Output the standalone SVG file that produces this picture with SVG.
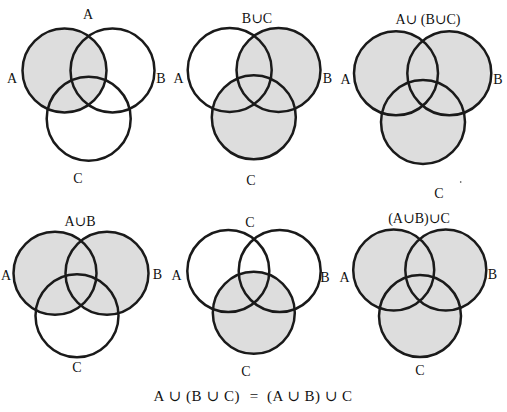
<svg xmlns="http://www.w3.org/2000/svg" width="507" height="412" viewBox="0 0 507 412" font-family="'Liberation Serif', 'DejaVu Serif', 'Times New Roman', serif" font-size="14">
<style>
.c{fill:none;stroke:#1a1a1a;stroke-width:2.5}
.s{fill:#dddddd;stroke:none}
.t{font-family:'Liberation Serif','DejaVu Serif','Times New Roman',serif;font-size:14px;fill:#111}
.m{text-anchor:middle}
.e{font-size:15px}
</style>
<rect width="507" height="412" fill="#fff"/>
<g id="venn-a">
<circle class="s" cx="64.5" cy="70.5" r="42"/>
<circle class="c" cx="64.5" cy="70.5" r="42"/>
<circle class="c" cx="112.5" cy="70.5" r="42"/>
<circle class="c" cx="88.7" cy="118.7" r="42"/>
<text class="t m" x="88" y="18.5">A</text>
<text class="t m" x="12" y="83">A</text>
<text class="t m" x="161" y="83">B</text>
<text class="t m" x="78" y="183">C</text>
</g>
<g id="venn-b-union-c">
<circle class="s" cx="278.5" cy="70" r="42"/>
<circle class="s" cx="253.8" cy="117.3" r="42"/>
<circle class="c" cx="229.7" cy="70" r="42"/>
<circle class="c" cx="278.5" cy="70" r="42"/>
<circle class="c" cx="253.8" cy="117.3" r="42"/>
<text class="t m" x="257" y="22.5">B∪C</text>
<text class="t m" x="178.5" y="83">A</text>
<text class="t m" x="327.5" y="83">B</text>
<text class="t m" x="251" y="185">C</text>
</g>
<g id="venn-a-union-bc">
<circle class="s" cx="396" cy="73.3" r="42"/>
<circle class="s" cx="449.3" cy="73.3" r="42"/>
<circle class="s" cx="423" cy="122" r="42"/>
<circle class="c" cx="396" cy="73.3" r="42"/>
<circle class="c" cx="449.3" cy="73.3" r="42"/>
<circle class="c" cx="423" cy="122" r="42"/>
<text class="t m" x="428" y="23.5">A∪ (B∪C)</text>
<text class="t m" x="345.5" y="83.5">A</text>
<text class="t m" x="498" y="83.5">B</text>
<text class="t m" x="439" y="198">C</text>
<circle cx="460.7" cy="182" r="0.8" fill="#333"/>
</g>
<g id="venn-a-union-b">
<circle class="s" cx="55" cy="273.3" r="41.5"/>
<circle class="s" cx="107" cy="273.3" r="41.5"/>
<circle class="c" cx="55" cy="273.3" r="41.5"/>
<circle class="c" cx="107" cy="273.3" r="41.5"/>
<circle class="c" cx="77" cy="315.8" r="41.5"/>
<text class="t m" x="80" y="226">A∪B</text>
<text class="t m" x="6" y="280">A</text>
<text class="t m" x="157.5" y="279">B</text>
<text class="t m" x="77" y="371.5">C</text>
</g>
<g id="venn-c">
<circle class="s" cx="253.8" cy="312.8" r="41"/>
<circle class="c" cx="228.3" cy="271" r="41"/>
<circle class="c" cx="279.7" cy="271" r="41"/>
<circle class="c" cx="253.8" cy="312.8" r="41"/>
<text class="t m" x="250" y="227">C</text>
<text class="t m" x="176.5" y="280">A</text>
<text class="t m" x="325" y="281.5">B</text>
<text class="t m" x="246" y="376">C</text>
</g>
<g id="venn-ab-union-c">
<circle class="s" cx="393.7" cy="270" r="40.5"/>
<circle class="s" cx="445.8" cy="270" r="40.5"/>
<circle class="s" cx="420" cy="316" r="41"/>
<circle class="c" cx="393.7" cy="270" r="40.5"/>
<circle class="c" cx="445.8" cy="270" r="40.5"/>
<circle class="c" cx="420" cy="316" r="41"/>
<text class="t m" x="419" y="222.5">(A∪B)∪C</text>
<text class="t m" x="344.5" y="281.5">A</text>
<text class="t m" x="492.5" y="279">B</text>
<text class="t m" x="420" y="375">C</text>
</g>
<g id="equation">
<text class="t e" x="153.5" y="400.5" textLength="86" lengthAdjust="spacing">A ∪ (B ∪ C)</text>
<text class="t e m" x="254" y="400.5">=</text>
<text class="t e" x="267" y="400.5" textLength="85" lengthAdjust="spacing">(A ∪ B) ∪ C</text>
</g>
</svg>
